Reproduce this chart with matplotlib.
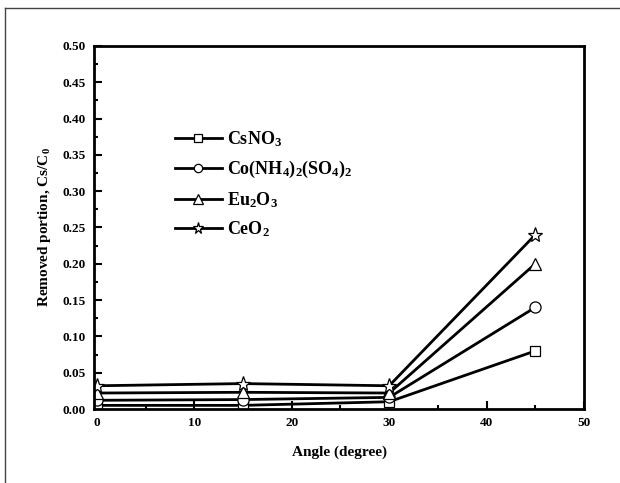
import matplotlib
matplotlib.use("Agg")
import matplotlib.pyplot as plt
from matplotlib.lines import Line2D
from matplotlib.ticker import MultipleLocator

plt.rcParams['font.family'] = ['Liberation Serif', 'DejaVu Serif']
plt.rcParams['font.weight'] = 'bold'
plt.rcParams['mathtext.fontset'] = 'custom'
plt.rcParams['mathtext.rm'] = 'Liberation Serif:bold'
plt.rcParams['mathtext.bf'] = 'Liberation Serif:bold'

angles = [0, 15, 30, 45]
cs_no3 = [0.005, 0.005, 0.010, 0.080]
co_nh4_so4 = [0.012, 0.013, 0.016, 0.140]
eu2o3 = [0.022, 0.023, 0.022, 0.200]
ceo2 = [0.032, 0.035, 0.032, 0.240]

labels = [r'$\mathregular{CsNO_3}$',
          r'$\mathregular{Co(NH_4)_2(SO_4)_2}$',
          r'$\mathregular{Eu_2O_3}$',
          r'$\mathregular{CeO_2}$']
series = [cs_no3, co_nh4_so4, eu2o3, ceo2]
markers = ['s', 'o', '^', '*']
msizes = [7, 8, 9, 11]

fig = plt.figure(figsize=(6.2, 4.83), dpi=100)
ax = fig.add_axes([94/620, 1-409/483, 490/620, 363/483])

for vals, lab, m, ms in zip(series, labels, markers, msizes):
    ax.plot(angles, vals, color='black', lw=2, marker=m, ms=ms,
            mfc='white', mec='black', mew=0.9, label=lab)

ax.set_xlim(-0.3, 50)
ax.set_ylim(0, 0.5)
ax.xaxis.set_major_locator(MultipleLocator(10))
ax.xaxis.set_minor_locator(MultipleLocator(5))
ax.yaxis.set_major_locator(MultipleLocator(0.05))
ax.yaxis.set_minor_locator(MultipleLocator(0.025))
ax.yaxis.set_major_formatter(matplotlib.ticker.FormatStrFormatter('%.2f'))
ax.tick_params(which='both', direction='in', top=False, right=False,
               width=1.5, labelsize=9.5)
ax.tick_params(which='major', length=6, pad=6)
ax.tick_params(which='minor', length=3)
for lab in ax.get_xticklabels() + ax.get_yticklabels():
    lab.set_fontweight('bold')
for sp in ax.spines.values():
    sp.set_linewidth(2)

ax.set_xlabel('Angle (degree)', fontsize=11, fontweight='bold', labelpad=12)
ax.set_ylabel(r'Removed portion, $\mathregular{Cs/C_0}$', fontsize=11,
              fontweight='bold', labelpad=7)

leg = ax.legend(loc='upper left', bbox_to_anchor=(0.15, 0.79), frameon=False,
                fontsize=13, handlelength=2.6, labelspacing=0.55,
                handletextpad=0.3, borderaxespad=0, markerscale=0.75)

fig.add_artist(Line2D([5/620, 1], [1-8/483, 1-8/483], color='#444444', lw=1))
fig.add_artist(Line2D([5/620, 5/620], [0, 1-8/483], color='#444444', lw=1))

fig.savefig('out.png', dpi=100)
